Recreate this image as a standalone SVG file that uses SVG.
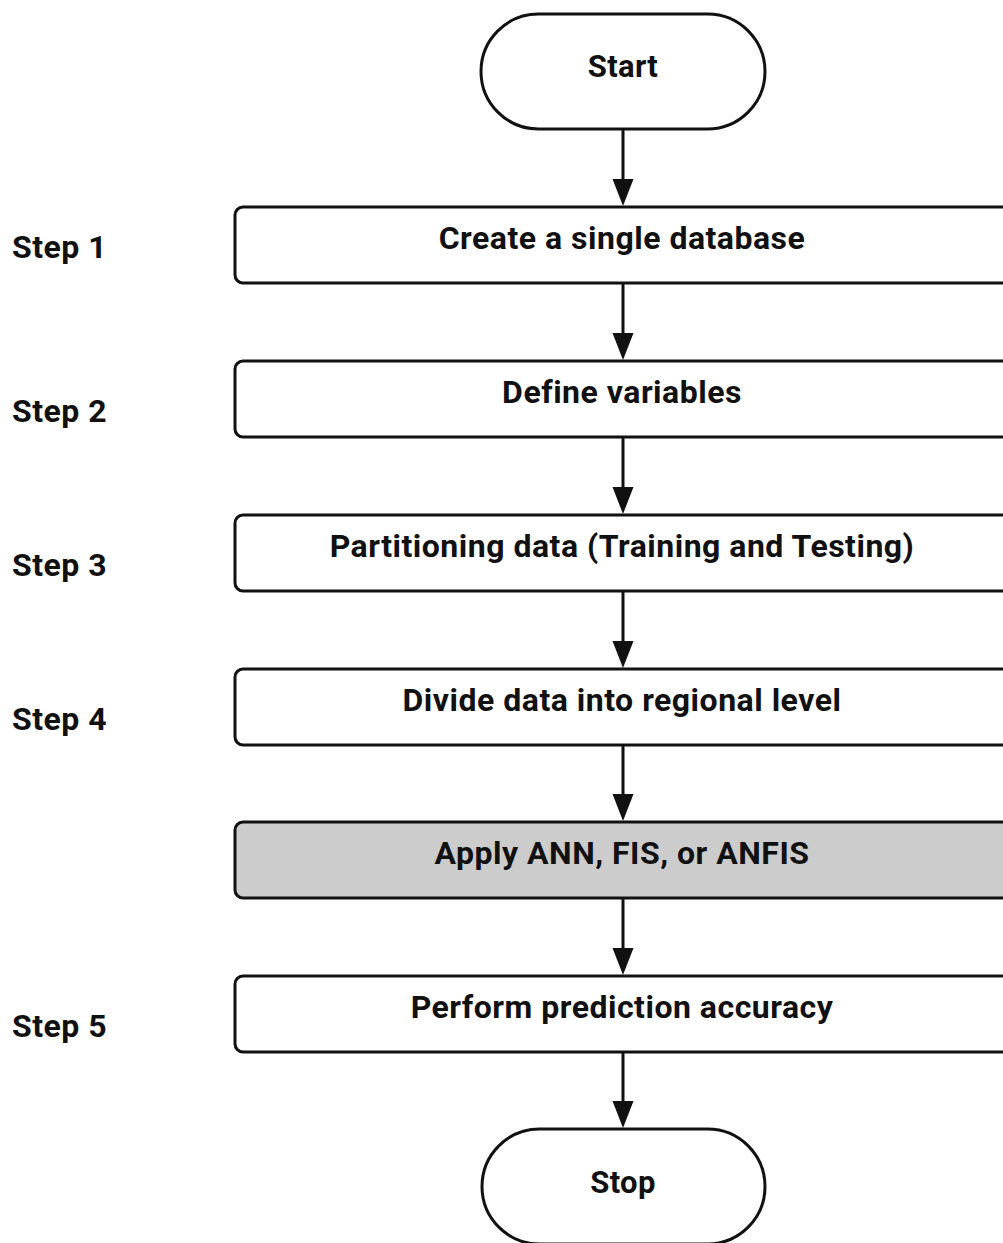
<svg xmlns="http://www.w3.org/2000/svg" width="1003" height="1243" viewBox="0 0 1003 1243">
  <style>
    .shape { fill: #ffffff; stroke: #111111; stroke-width: 3; }
    .shaded { fill: #cccccc; }
    .label { font-family: Roboto, "Liberation Sans", sans-serif; font-weight: bold; font-size: 32px; letter-spacing: 0.5px; fill: #111111; }
    .terminal { font-size: 31px; letter-spacing: 0.3px; }
    .mid { text-anchor: middle; }
    .edge { stroke: #111111; stroke-width: 3; fill: none; }
    .head { fill: #111111; stroke: none; }
  </style>
  <rect width="1003" height="1243" fill="#ffffff"/>

  <!-- step labels on the left -->
  <g id="step-labels">
    <text class="label" x="12" y="258">Step 1</text>
    <text class="label" x="12" y="422">Step 2</text>
    <text class="label" x="12" y="576">Step 3</text>
    <text class="label" x="12" y="730">Step 4</text>
    <text class="label" x="12" y="1037">Step 5</text>
  </g>

  <!-- connectors -->
  <g id="connectors">
    <line class="edge" x1="623" y1="129" x2="623" y2="182"/>
    <polygon class="head" points="612.5,179 633.5,179 623,206"/>
    <line class="edge" x1="623" y1="283" x2="623" y2="336"/>
    <polygon class="head" points="612.5,333 633.5,333 623,360"/>
    <line class="edge" x1="623" y1="437" x2="623" y2="490"/>
    <polygon class="head" points="612.5,487 633.5,487 623,514"/>
    <line class="edge" x1="623" y1="591" x2="623" y2="644"/>
    <polygon class="head" points="612.5,641 633.5,641 623,668"/>
    <line class="edge" x1="623" y1="745" x2="623" y2="797"/>
    <polygon class="head" points="612.5,794 633.5,794 623,821"/>
    <line class="edge" x1="623" y1="898" x2="623" y2="951"/>
    <polygon class="head" points="612.5,948 633.5,948 623,975"/>
    <line class="edge" x1="623" y1="1052" x2="623" y2="1104"/>
    <polygon class="head" points="612.5,1101 633.5,1101 623,1128"/>
  </g>

  <g id="start">
    <rect class="shape" x="481" y="14" width="284" height="115" rx="57.5" ry="57.5"/>
    <text class="label terminal mid" x="623" y="77">Start</text>
  </g>

  <g id="create-database">
    <rect class="shape" x="235" y="207" width="790" height="76" rx="8"/>
    <text class="label mid" x="622" y="249">Create a single database</text>
  </g>

  <g id="define-variables">
    <rect class="shape" x="235" y="361" width="790" height="76" rx="8"/>
    <text class="label mid" x="622" y="403">Define variables</text>
  </g>

  <g id="partition-data">
    <rect class="shape" x="235" y="515" width="790" height="76" rx="8"/>
    <text class="label mid" x="622" y="557">Partitioning data (Training and Testing)</text>
  </g>

  <g id="regional-level">
    <rect class="shape" x="235" y="669" width="790" height="76" rx="8"/>
    <text class="label mid" x="622" y="711">Divide data into regional level</text>
  </g>

  <g id="apply-models">
    <rect class="shape shaded" x="235" y="822" width="790" height="76" rx="8"/>
    <text class="label mid" x="622" y="864">Apply ANN, FIS, or ANFIS</text>
  </g>

  <g id="prediction-accuracy">
    <rect class="shape" x="235" y="976" width="790" height="76" rx="8"/>
    <text class="label mid" x="622" y="1018">Perform prediction accuracy</text>
  </g>

  <g id="stop">
    <rect class="shape" x="482" y="1129" width="283" height="115" rx="57.5" ry="57.5"/>
    <text class="label terminal mid" x="623" y="1193">Stop</text>
  </g>
</svg>
